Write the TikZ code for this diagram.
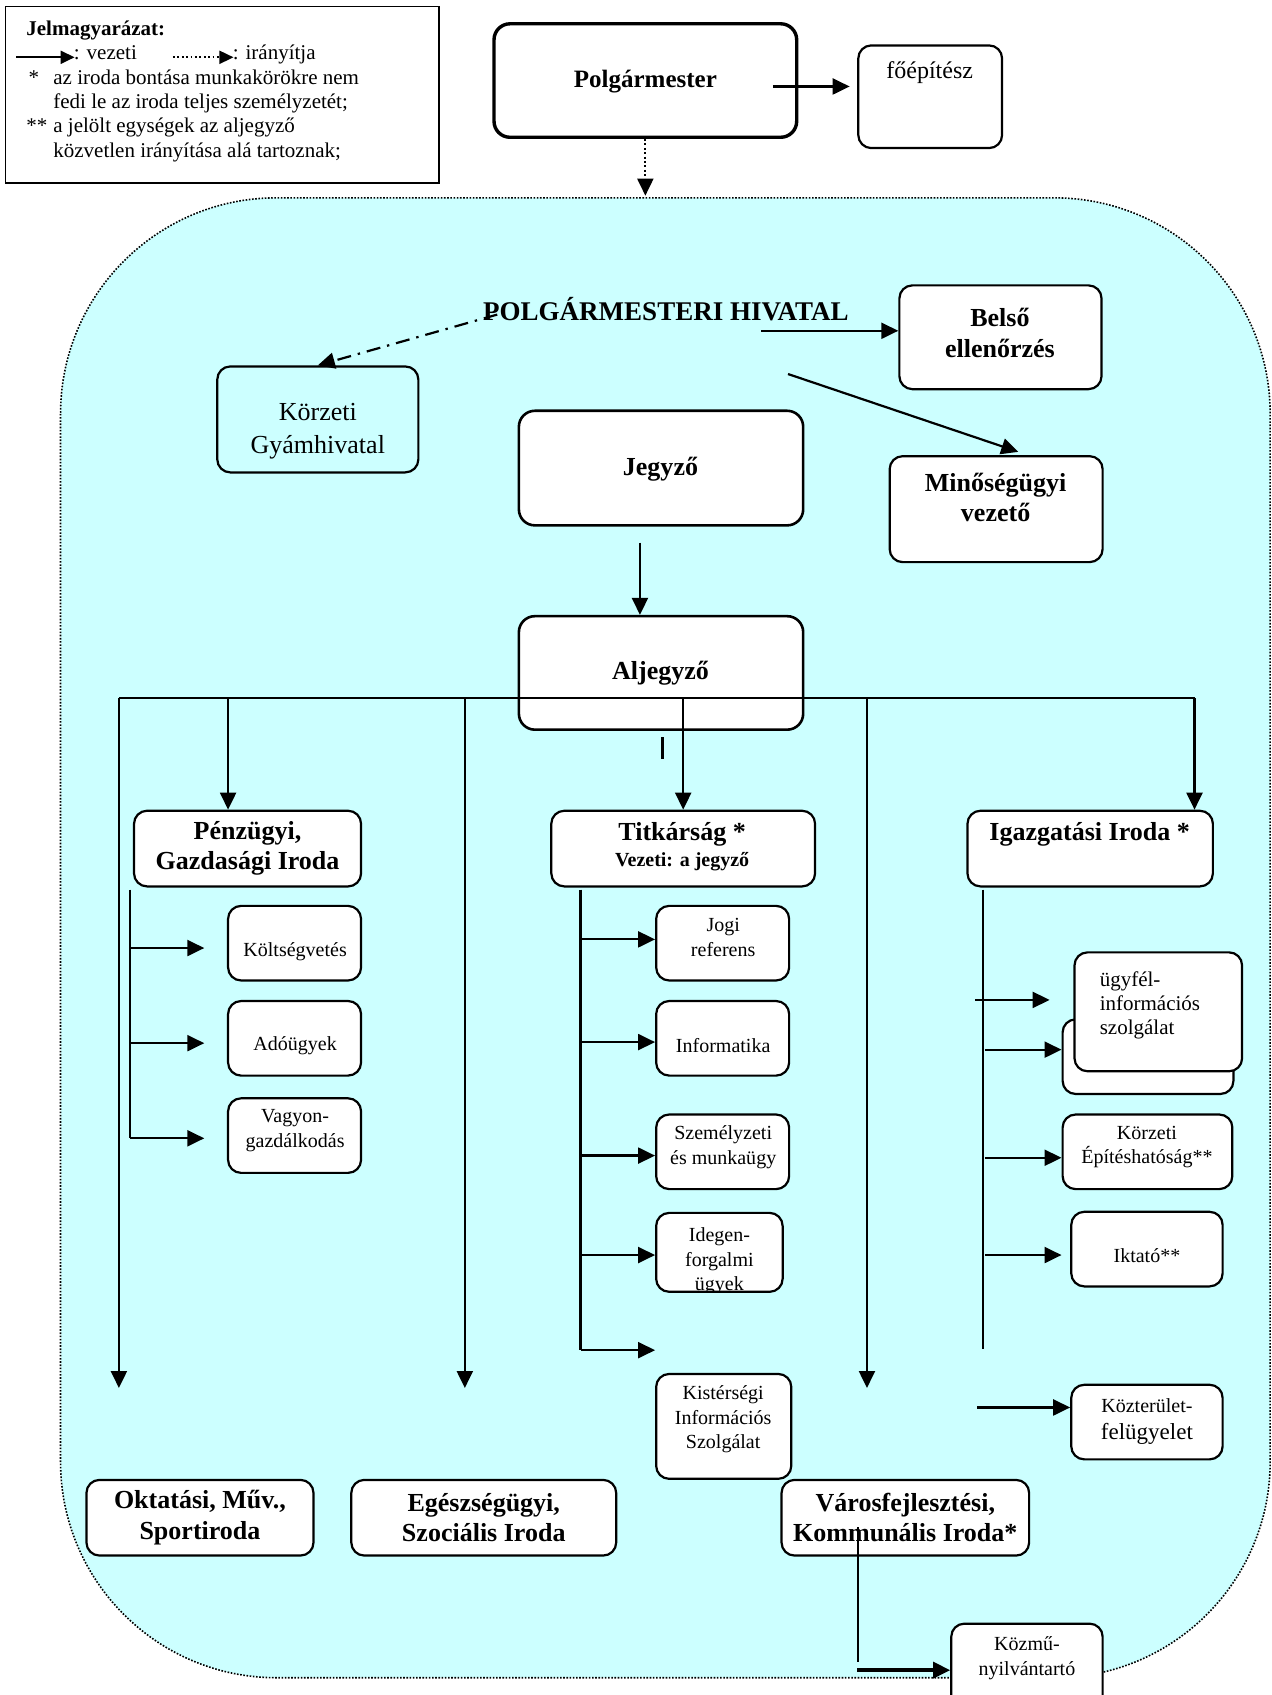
\documentclass[tikz,border=0pt]{standalone}
\usepackage{fontspec}
\setmainfont{Liberation Serif}
\usetikzlibrary{arrows.meta}
\newcommand\upx{0.5404pt}
\definecolor{cyanbg}{RGB}{204,255,255}
\newcommand\fsm{\fontsize{10}{12.3}\selectfont}
\newcommand\fleg{\fontsize{10.5}{12.4}\selectfont}
\newcommand\fmd{\fontsize{12}{15.5}\selectfont}
\newcommand\fbg{\fontsize{13}{15.2}\selectfont}
\newcommand\ubox[7][]{\node[box,#1, minimum width={(#4-#2)*\upx}, minimum height={(#5-#3)*\upx}] (#6) at ({(#2+#4)/2},{(#3+#5)/2}) {#7};}
\tikzset{
 box/.style={draw, fill=white, rounded corners=6.5pt, line width=1.1pt, inner sep=0pt, align=center},
 arr/.style={-{Triangle[length=8.5pt,width=8pt]}, line width=1.1pt},
 conn/.style={line width=1.1pt},
 txt/.style={inner sep=0pt, align=center},
 lg/.style={inner sep=0pt, anchor=base west, font=\fleg},
}
\begin{document}
\begin{tikzpicture}[x=\upx, y=-\upx]
\useasboundingbox (0,0) rectangle (1176,1568);
% big region
\draw[fill=cyanbg, line width=0.8pt, dash pattern=on 0.8pt off 0.8pt, rounded corners=108pt] (56,183) rectangle (1175,1552);

% legend
\node[draw, line width=0.9pt, minimum width={401*\upx}, minimum height={163*\upx}, inner sep=0pt] (legend) at (205.5,87.5) {};
\node[lg, font=\fleg\bfseries] (lg1) at (24,33) {Jelmagyarázat:};
\coordinate (la1) at (15,53); \coordinate (la2) at (69,53);
\draw[-{Triangle[length=7pt,width=6.5pt]}, line width=1pt] (la1) -- (la2);
\node[lg] (lg2) at (68,55) {: vezeti};
\coordinate (lb1) at (160,53); \coordinate (lb2) at (216,53);
\draw[-{Triangle[length=7pt,width=6.5pt]}, line width=0.9pt, dash pattern=on 0.9pt off 1.3pt] (lb1) -- (lb2);
\node[lg] (lg3) at (215,55) {: irányítja};
\node[lg] (lg4) at (26,78) {*};
\node[lg] (lg5) at (49,78) {az iroda bontása munkakörökre nem};
\node[lg] (lg6) at (49,100) {fedi le az iroda teljes személyzetét;};
\node[lg] (lg7) at (24,123) {**};
\node[lg] (lg8) at (49,123) {a jelölt egységek az aljegyző};
\node[lg] (lg9) at (49,146) {közvetlen irányítása alá tartoznak;};

% top
\ubox[line width=1.7pt, rounded corners=8pt]{457}{22}{737}{127}{polg}{}
\node[txt, font=\fontsize{12.5}{15}\selectfont\bfseries] (polgt) at (597,75) {Polgármester};
\ubox{794}{42}{927}{137}{foep}{}
\node[txt, font=\fmd] (foept) at (860,67) {főépítész};
\coordinate (pa) at (715,80);
\draw[arr, shorten >=7*\upx] (pa) -- (pa -| foep.west);
\coordinate (hiv) at (597,181);
\draw[arr, line width=1pt, dash pattern=on 1pt off 1.2pt] (polg.south) -- (hiv);

% hivatal
\node[txt, font=\fontsize{13.5}{16}\selectfont\bfseries] (hivt) at (616,286) {POLGÁRMESTERI HIVATAL};
\ubox[fill=none]{201}{339}{387}{437}{gyam}{}
\node[txt, font=\fbg] (gyamt) at (294,399) {Körzeti\\[1pt]Gyámhivatal};
\coordinate (dd) at (460,291);
\draw[arr, line width=1.1pt, dash pattern=on 7pt off 3.5pt on 1.2pt off 3.5pt] (dd) -- (gyam.north);

\ubox{832}{264}{1019}{360}{belso}{}
\node[txt, font=\fbg\bfseries] (belsot) at (925,308) {Belső\\ellenőrzés};
\coordinate (ba) at (704,306);
\draw[arr] (ba) -- (ba -| belso.west);

\ubox{823}{422}{1020}{520}{minos}{}
\node[txt, font=\fbg\bfseries] (minost) at (921,460) {Minőségügyi\\vezető};
\coordinate (ma) at (729,346); \coordinate (mb) at (942,418);
\draw[arr] (ma) -- (mb);

\ubox[line width=1.3pt, rounded corners=8pt]{480}{380}{743}{486}{jegyzo}{}
\node[txt, font=\fbg\bfseries] (jegyzot) at (611,434) {Jegyző};
\coordinate (ja) at (592,502);
\ubox[line width=1.3pt, rounded corners=8pt]{480}{570}{743}{675}{aljegy}{}
\node[txt, font=\fbg\bfseries] (aljegyt) at (611,623) {Aljegyző};
\draw[arr] (ja) -- (ja |- aljegy.north);

% bus
\coordinate (bA) at (110,646); \coordinate (bB) at (211,646); \coordinate (bC) at (430,646);
\coordinate (bD) at (632,646); \coordinate (bE) at (802,646); \coordinate (bF) at (1105,646);
\coordinate (eA) at (110,1284); \coordinate (eC) at (430,1284); \coordinate (eE) at (802,1284);
\draw[conn] (bA) -- (bF);
\coordinate (im1) at (613,682); \coordinate (im2) at (613,702);
\draw[line width=1.2pt] (im1) -- (im2);

% offices
\ubox[font=\fbg\bfseries]{124}{750}{334}{820}{penz}{Pénzügyi,\\Gazdasági Iroda}
\ubox{510}{750}{754}{820}{titk}{}
\node[txt, font=\fbg\bfseries] (titkt) at (631,772) {Titkárság *};
\node[txt, font=\fsm\bfseries] (titkv) at (631,797) {Vezeti: a jegyző};
\ubox{895}{750}{1122}{820}{igaz}{}
\node[txt, font=\fbg\bfseries] (igazt) at (1008,772) {Igazgatási Iroda *};

\draw[arr] (bA) -- (eA);
\draw[arr] (bB) -- (bB |- penz.north);
\draw[arr] (bC) -- (eC);
\draw[arr] (bD) -- (bD |- titk.north);
\draw[arr] (bE) -- (eE);
\draw[arr] (bF) -- (bF |- igaz.north);

% Penzugyi sub
\ubox{211}{838}{334}{907}{kolt}{}
\node[txt, font=\fsm] (koltt) at (273,880) {Költségvetés};
\ubox{211}{926}{334}{995}{ado}{}
\node[txt, font=\fsm] (adot) at (273,967) {Adóügyek};
\ubox{211}{1016}{334}{1085}{vagy}{}
\node[txt, font=\fsm] (vagyt) at (273,1046) {Vagyon-\\gazdálkodás};
\coordinate (p0) at (120,823); \coordinate (p1) at (120,877);
\coordinate (p2) at (120,965); \coordinate (p3) at (120,1053);
\draw[conn] (p0) -- (p3);
\draw[arr, shorten >=21*\upx] (p1) -- (p1 -| kolt.west);
\draw[arr, shorten >=21*\upx] (p2) -- (p2 -| ado.west);
\draw[arr, shorten >=21*\upx] (p3) -- (p3 -| vagy.west);

% Titkarsag sub
\ubox{607}{838}{730}{907}{jogi}{}
\node[txt, font=\fsm] (jogit) at (669,867) {Jogi\\referens};
\ubox{607}{926}{730}{995}{info}{}
\node[txt, font=\fsm] (infot) at (669,967) {Informatika};
\ubox{607}{1031}{730}{1100}{szem}{}
\node[txt, font=\fsm] (szemt) at (669,1061) {Személyzeti\\és munkaügy};
\ubox[path picture={\node[txt, font=\fsm, yshift=-4.6pt] at (path picture bounding box.center) {Idegen-\\forgalmi\\ügyek};}]{607}{1122}{724}{1195}{ideg}{}
\ubox{607}{1271}{732}{1368}{kist}{}
\node[txt, font=\fsm] (kistt) at (669,1313) {Kistérségi\\Információs\\Szolgálat};
\coordinate (t0) at (537,823); \coordinate (t1) at (537,869); \coordinate (t2) at (537,964);
\coordinate (t3) at (537,1069); \coordinate (t4) at (537,1161); \coordinate (t5) at (537,1249);
\coordinate (t5e) at (606,1249);
\draw[conn] (t0) -- (t5);
\draw[arr] (t1) -- (t1 -| jogi.west);
\draw[arr] (t2) -- (t2 -| info.west);
\draw[arr] (t3) -- (t3 -| szem.west);
\draw[arr] (t4) -- (t4 -| ideg.west);
\draw[arr] (t5) -- (t5e);

% Igazgatasi sub
\ubox{983}{943}{1141}{1012}{rejt}{}
\ubox{994}{881}{1149}{991}{ugyf}{}
\node[inner sep=0pt, anchor=west, align=left, font=\fontsize{10.5}{11.8}\selectfont] (ugyft) at (1017,930) {ügyfél-\\információs\\szolgálat};
\ubox{983}{1031}{1140}{1100}{kep}{}
\node[txt, font=\fsm] (kept) at (1061,1061) {Körzeti\\Építéshatóság**};
\ubox{991}{1121}{1131}{1190}{ikt}{}
\node[txt, font=\fsm] (iktt) at (1061,1162) {Iktató**};
\ubox{991}{1281}{1131}{1350}{kozt}{}
\node[txt] (kozt1) at (1061,1300) {\fsm Közterület-};
\node[txt] (kozt2) at (1061,1326) {\fontsize{11.5}{14}\selectfont felügyelet};
\coordinate (g0) at (909,823); \coordinate (g5) at (909,1248);
\draw[conn] (g0) -- (g5);
\coordinate (g1) at (902,925); \coordinate (g2) at (911,971);
\coordinate (g3) at (911,1071); \coordinate (g4) at (911,1161); \coordinate (g6) at (904,1302);
\draw[arr, shorten >=22*\upx] (g1) -- (g1 -| ugyf.west);
\draw[arr] (g2) -- (g2 -| rejt.west);
\draw[arr] (g3) -- (g3 -| kep.west);
\draw[arr, shorten >=8*\upx] (g4) -- (g4 -| ikt.west);
\draw[arr] (g6) -- (g6 -| kozt.west);

% bottom offices
\ubox[font=\fbg\bfseries]{80}{1369}{290}{1439}{okt}{Oktatási, Műv.,\\Sportiroda}
\ubox[font=\fbg\bfseries]{325}{1369}{570}{1439}{egesz}{Egészségügyi,\\Szociális Iroda}
\ubox[font=\fbg\bfseries]{723}{1369}{952}{1439}{varos}{Városfejlesztési,\\Kommunális Iroda*}
\ubox{880}{1502}{1020}{1590}{kozmu}{}
\node[txt, font=\fsm] (kozmut) at (950,1534) {Közmű-\\nyilvántartó};
\coordinate (v0) at (794,1413); \coordinate (v1) at (794,1537); \coordinate (v2) at (793,1545);
\draw[line width=0.9pt] (v0) -- (v1);
\draw[arr, line width=1.7pt] (v2) -- (v2 -| kozmu.west);
\end{tikzpicture}
\end{document}
